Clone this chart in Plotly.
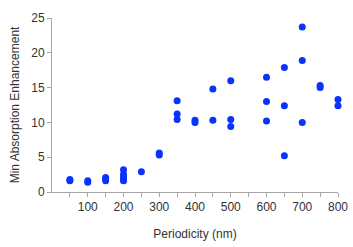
import plotly.graph_objects as go

periodicity = [50, 50, 100, 100, 150, 150, 150, 200, 200, 200, 200, 200, 250, 300, 300,
               350, 350, 350, 400, 400, 450, 450, 500, 500, 500, 600, 600, 600,
               650, 650, 650, 700, 700, 700, 750, 750, 800, 800]
enhancement = [1.6, 1.8, 1.4, 1.6, 1.6, 1.9, 2.1, 3.2, 2.5, 2.1, 1.8, 1.6, 2.9, 5.3, 5.6,
               13.1, 11.2, 10.4, 10.0, 10.3, 14.8, 10.3, 16.0, 10.4, 9.4, 16.5, 13.0, 10.2,
               17.9, 12.4, 5.2, 23.7, 18.9, 10.0, 15.0, 15.3, 13.3, 12.4]

x_ticks = list(range(50, 801, 50))
x_labels = ["" if v % 100 else str(v) for v in x_ticks]
y_ticks = [0, 5, 10, 15, 20, 25]

fig = go.Figure(go.Scatter(
    x=periodicity, y=enhancement, mode="markers",
    marker=dict(color="#0A32FF", size=7),
    cliponaxis=False,
))

axis_common = dict(
    showgrid=False, zeroline=False, showline=True, linecolor="#a6a6a6", linewidth=1,
    ticks="outside", tickcolor="#a6a6a6", ticklen=4, automargin=False,
    tickfont=dict(family="Liberation Sans, Arial", size=12, color="#333333"),
)

fig.update_layout(
    width=353, height=247,
    margin=dict(l=52, r=15, t=18, b=55),
    paper_bgcolor="white", plot_bgcolor="white",
    showlegend=False,
    font=dict(family="Liberation Sans, Arial", size=12, color="#333333"),
    xaxis=dict(range=[0, 800], tickvals=x_ticks, ticktext=x_labels,
               title=dict(text="Periodicity (nm)", standoff=16,
                          font=dict(size=12, color="#333333")),
               **axis_common),
    yaxis=dict(range=[0, 25], tickvals=y_ticks,
               title=dict(text="Min Absorption Enhancement", standoff=9,
                          font=dict(size=12, color="#333333")),
               **axis_common),
)

fig.write_html("out.html", config={"displayModeBar": False},
               post_script="document.body.style.margin='0';")
